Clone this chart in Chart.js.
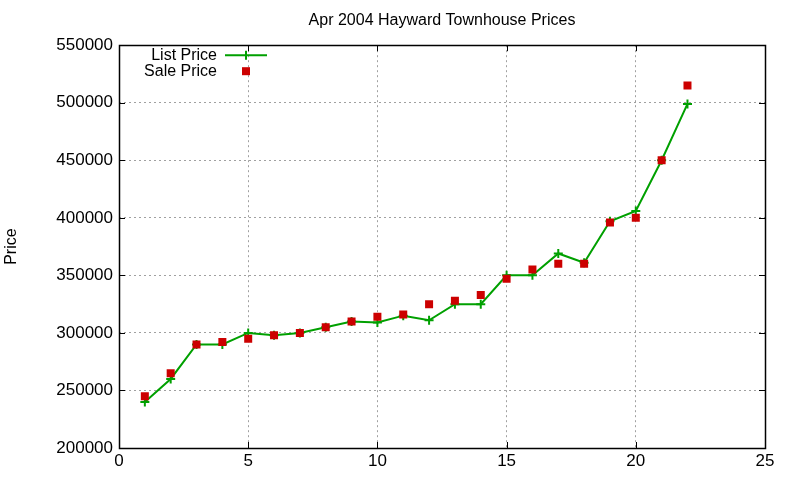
<!DOCTYPE html>
<html>
<head>
<meta charset="utf-8">
<script src="https://cdn.jsdelivr.net/npm/chart.js@4/dist/chart.umd.min.js"></script>
<style>
html,body{margin:0;padding:0;background:#fff;}
canvas{display:block;}
</style>
</head>
<body>
<canvas id="c" width="800" height="480"></canvas>
<script>
const xValues = [1,2,3,4,5,6,7,8,9,10,11,12,13,14,15,16,17,18,19,20,21,22];
const listPrice = [240000,260000,290000,290000,300000,298000,300000,305000,310000,309000,315000,311000,325000,325000,350000,350000,369000,361000,397000,406000,450000,499000];
const salePrice = [245000,265000,290000,292000,295000,298000,300000,305000,310000,314000,316000,325000,328000,333000,347000,355000,360000,360000,396000,400000,450000,515000];
const seriesNames = ['List Price','Sale Price'];
const titleText = 'Apr 2004 Hayward Townhouse Prices';
const yTitle = 'Price';

const FONT = '"Liberation Sans", Arial, sans-serif';
const GREEN = '#00a000';
const RED = '#cc0000';

const framePlugin = {
  id: 'frame',
  afterDatasetsDraw(chart) {
    const {ctx, chartArea: a, scales: {x, y}} = chart;
    ctx.save();
    ctx.strokeStyle = '#000';
    ctx.lineWidth = 1;
    ctx.beginPath();
    const tl = 6;
    x.ticks.forEach(t => {
      const px = Math.round(x.getPixelForValue(t.value)) + 0.5;
      ctx.moveTo(px, a.bottom); ctx.lineTo(px, a.bottom - tl);
      ctx.moveTo(px, a.top); ctx.lineTo(px, a.top + tl);
    });
    y.ticks.forEach(t => {
      const py = Math.round(y.getPixelForValue(t.value)) + 0.5;
      ctx.moveTo(a.left, py); ctx.lineTo(a.left + tl, py);
      ctx.moveTo(a.right, py); ctx.lineTo(a.right - tl, py);
    });
    ctx.stroke();
    ctx.lineWidth = 1.5;
    ctx.strokeRect(Math.round(a.left) + 0.5, Math.round(a.top) + 0.5, Math.round(a.right - a.left), Math.round(a.bottom - a.top));
    // legend (gnuplot style: text right-aligned, sample on the right)
    const ds = chart.data.datasets;
    ctx.font = '16px ' + FONT;
    ctx.fillStyle = '#000';
    ctx.textAlign = 'right';
    ctx.textBaseline = 'middle';
    const textRight = a.left + 98, sampleL = a.left + 106, sampleR = a.left + 148, mid = a.left + 127;
    const rows = [a.top + 10, a.top + 26];
    ctx.fillText(ds[0].label, textRight, rows[0]);
    ctx.fillText(ds[1].label, textRight, rows[1]);
    ctx.strokeStyle = ds[0].borderColor;
    ctx.lineWidth = 2;
    ctx.beginPath();
    ctx.moveTo(sampleL, rows[0]); ctx.lineTo(sampleR, rows[0]);
    ctx.moveTo(mid, rows[0] - 4.5); ctx.lineTo(mid, rows[0] + 4.5);
    ctx.stroke();
    ctx.fillStyle = ds[1].backgroundColor;
    ctx.fillRect(mid - 4, rows[1] - 4, 8, 8);
    ctx.restore();
  }
};

new Chart(document.getElementById('c'), {
  type: 'scatter',
  data: {
    datasets: [
      {
        label: seriesNames[0],
        data: xValues.map((v, i) => ({x: v, y: listPrice[i]})),
        showLine: true,
        borderColor: GREEN,
        backgroundColor: GREEN,
        borderWidth: 2,
        pointStyle: 'cross',
        pointRadius: 4.5,
        pointBorderWidth: 2,
        pointBorderColor: GREEN,
        tension: 0,
        order: 2
      },
      {
        label: seriesNames[1],
        data: xValues.map((v, i) => ({x: v, y: salePrice[i]})),
        showLine: false,
        borderColor: RED,
        backgroundColor: RED,
        pointStyle: 'rect',
        pointRadius: 5.66,
        pointBorderWidth: 0,
        order: 1
      }
    ]
  },
  options: {
    responsive: false,
    devicePixelRatio: 1,
    animation: false,
    layout: {padding: {left: 0, right: 35, top: 0, bottom: 0}},
    plugins: {
      legend: {display: false},
      tooltip: {enabled: false},
      title: {
        display: true,
        text: titleText,
        fullSize: false,
        color: '#000',
        font: {family: FONT, size: 16, weight: 'normal'},
        padding: {top: 11, bottom: 15}
      }
    },
    scales: {
      x: {
        type: 'linear',
        min: 0, max: 25,
        ticks: {stepSize: 5, color: '#000', font: {family: FONT, size: 17}, padding: 3, maxRotation: 0,
                callback: v => String(v)},
        grid: {color: '#a0a0a0', lineWidth: 1, drawTicks: false},
        border: {display: false, dash: [2, 3]},
        afterFit(s) { s.height = 32; }
      },
      y: {
        type: 'linear',
        min: 200000, max: 550000,
        ticks: {stepSize: 50000, color: '#000', font: {family: FONT, size: 17}, padding: 6,
                callback: v => String(v)},
        grid: {color: '#a0a0a0', lineWidth: 1, drawTicks: false},
        border: {display: false, dash: [2, 3]},
        title: {display: true, text: yTitle, color: '#000', font: {family: FONT, size: 16}, padding: {top: 2, bottom: 2}},
        afterFit(s) { s.width = 119; }
      }
    }
  },
  plugins: [framePlugin]
});
</script>
</body>
</html>
